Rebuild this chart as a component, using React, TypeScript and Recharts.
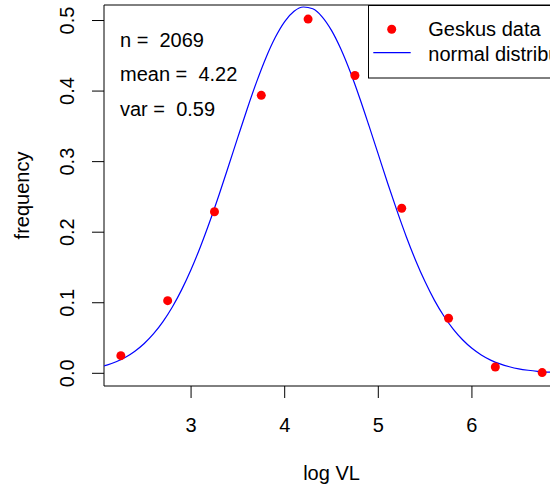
import {
  ComposedChart,
  Line,
  Scatter,
  XAxis,
  YAxis,
  ReferenceArea,
  Legend,
  Customized
} from 'recharts'

const FONT = '"Liberation Sans", Arial, Helvetica, sans-serif'

// binned frequencies (Geskus data)
const binMids = [2.25, 2.75, 3.25, 3.75, 4.25, 4.75, 5.25, 5.75, 6.25, 6.75]
const geskusFreq = [0.025, 0.103, 0.229, 0.394, 0.502, 0.422, 0.234, 0.078, 0.009, 0.001]

// fitted normal curve (mean 4.22, var 0.59), sampled along log VL
const curveX = [
  2.07, 2.1, 2.2, 2.3, 2.4, 2.5, 2.6, 2.7, 2.8, 2.9, 3.0, 3.1, 3.2, 3.3, 3.4, 3.5,
  3.6, 3.7, 3.8, 3.9, 4.0, 4.1, 4.2, 4.3, 4.4, 4.5, 4.6, 4.7, 4.8, 4.9, 5.0, 5.1,
  5.2, 5.3, 5.4, 5.5, 5.6, 5.7, 5.8, 5.9, 6.0, 6.1, 6.2, 6.3, 6.4, 6.5, 6.6, 6.7,
  6.8, 6.9, 6.93
]
const curveY = [
  0.0103, 0.0115, 0.0164, 0.0228, 0.0314, 0.0423, 0.0562, 0.0733, 0.094, 0.1186,
  0.1471, 0.1794, 0.2151, 0.2535, 0.2938, 0.3347, 0.375, 0.413, 0.4473, 0.4762,
  0.4985, 0.5131, 0.5192, 0.5166, 0.5053, 0.486, 0.4596, 0.4273, 0.3906, 0.351,
  0.3102, 0.2694, 0.2302, 0.1933, 0.1596, 0.1296, 0.1034, 0.0812, 0.0626, 0.0475,
  0.0354, 0.026, 0.0187, 0.0133, 0.0093, 0.0063, 0.0043, 0.0028, 0.0018, 0.0012,
  0.001
]

const xTicks = [3, 4, 5, 6]
const yTicks = [0, 0.1, 0.2, 0.3, 0.4, 0.5]
const xDomain = [2.07, 6.93]
const yDomain = [-0.018, 0.522]

const stats = ['n =  2069', 'mean =  4.22', 'var =  0.59']

const points = binMids.map((x, i) => ({ x, y: geskusFreq[i] }))
const curve = curveX.map((x, i) => ({ x, y: curveY[i] }))

const XTick = (props: any) => {
  const { x, y, payload } = props
  return (
    <text x={x} y={y + 34} textAnchor="middle" fontSize={20} fontFamily={FONT} fill="#000">
      {payload.value}
    </text>
  )
}

const YTick = (props: any) => {
  const { x, y, payload } = props
  const tx = x - 17.5
  return (
    <text
      x={tx}
      y={y}
      textAnchor="middle"
      transform={`rotate(-90 ${tx} ${y})`}
      fontSize={20}
      fontFamily={FONT}
      fill="#000"
    >
      {payload.value.toFixed(1)}
    </text>
  )
}

const Annotations = () => (
  <g fontFamily={FONT} fontSize={20} fill="#000">
    {stats.map((s, i) => (
      <text key={s} x={120} y={46.5 + i * 34.8} style={{ whiteSpace: 'pre' }}>
        {s}
      </text>
    ))}
    <text x={331.5} y={480} textAnchor="middle">log VL</text>
    <text x={29} y={195.5} textAnchor="middle" transform="rotate(-90 29 195.5)">
      frequency
    </text>
  </g>
)

const LegendBox = () => (
  <svg width={240} height={74} style={{ display: 'block', overflow: 'visible' }}>
    <rect x={0.5} y={0.5} width={236} height={72.5} fill="#fff" stroke="#000" strokeWidth={1} />
    <circle cx={23.7} cy={24.3} r={4.5} fill="#ff0000" />
    <line x1={5.3} x2={42.7} y1={47.7} y2={47.7} stroke="#0000ff" strokeWidth={1.2} />
    <text x={60.3} y={31} fontSize={20} fontFamily={FONT} fill="#000">Geskus data</text>
    <text x={60.3} y={55.5} fontSize={20} fontFamily={FONT} fill="#000">normal distribution</text>
  </svg>
)

export default function App() {
  return (
    <div
      style={{
        position: 'fixed',
        top: 0,
        left: 0,
        width: 550,
        height: 486,
        overflow: 'hidden',
        background: '#fff'
      }}
    >
      <ComposedChart
        width={570}
        height={486}
        margin={{ top: 5, right: 11, bottom: 0, left: 0 }}
        style={{ fontFamily: FONT }}
      >
        <XAxis
          type="number"
          dataKey="x"
          domain={xDomain}
          ticks={xTicks}
          allowDataOverflow
          axisLine={false}
          tickSize={12}
          tickMargin={0}
          tickLine={{ stroke: '#000' }}
          tick={XTick}
          height={100}
          interval={0}
        />
        <YAxis
          type="number"
          dataKey="y"
          domain={yDomain}
          ticks={yTicks}
          allowDataOverflow
          axisLine={false}
          tickSize={12}
          tickMargin={0}
          tickLine={{ stroke: '#000' }}
          tick={YTick}
          width={104}
          interval={0}
        />
        <ReferenceArea
          x1={xDomain[0]}
          x2={xDomain[1]}
          y1={yDomain[0]}
          y2={yDomain[1]}
          fill="none"
          fillOpacity={0}
          stroke="#000"
          strokeWidth={1}
          ifOverflow="visible"
        />
        <Line
          data={curve}
          dataKey="y"
          type="monotone"
          stroke="#0000ff"
          strokeWidth={1.2}
          dot={false}
          activeDot={false}
          isAnimationActive={false}
        />
        <Scatter
          data={points}
          dataKey="y"
          fill="#ff0000"
          isAnimationActive={false}
          shape={(p: any) => <circle cx={p.cx} cy={p.cy} r={4.5} fill="#ff0000" />}
        />
        <Customized component={Annotations} />
        <Legend
          layout="horizontal"
          verticalAlign="middle"
          align="center"
          content={LegendBox}
          wrapperStyle={{ left: 368, top: 5, width: 240, height: 74 }}
        />
      </ComposedChart>
    </div>
  )
}
